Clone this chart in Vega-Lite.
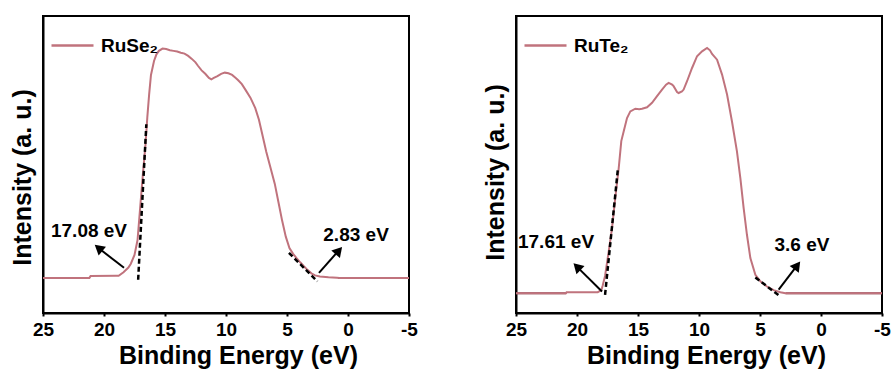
{
  "$schema": "https://vega.github.io/schema/vega-lite/v6.json",
  "padding": {"left": 9, "top": 15, "right": 5, "bottom": 5},
  "spacing": 63,
  "datasets": {
    "se": [
      {"x": 25, "y": 0}, {"x": 21.2, "y": 0}, {"x": 21.1, "y": 0.008}, {"x": 19.0, "y": 0.009}, {"x": 18.8, "y": 0.009},
      {"x": 18.4, "y": 0.025}, {"x": 18.0, "y": 0.045}, {"x": 17.8, "y": 0.062}, {"x": 17.5, "y": 0.10}, {"x": 17.25, "y": 0.165},
      {"x": 17.0, "y": 0.33}, {"x": 16.8, "y": 0.46}, {"x": 16.6, "y": 0.58}, {"x": 16.45, "y": 0.70}, {"x": 16.3, "y": 0.80},
      {"x": 16.15, "y": 0.885}, {"x": 15.9, "y": 0.946}, {"x": 15.7, "y": 0.975}, {"x": 15.5, "y": 0.99}, {"x": 15.2, "y": 1.0},
      {"x": 14.9, "y": 0.998}, {"x": 14.6, "y": 0.993}, {"x": 14.3, "y": 0.99}, {"x": 14.0, "y": 0.987}, {"x": 13.7, "y": 0.982},
      {"x": 13.4, "y": 0.978}, {"x": 13.1, "y": 0.968}, {"x": 12.8, "y": 0.955}, {"x": 12.5, "y": 0.94}, {"x": 12.3, "y": 0.925},
      {"x": 12.0, "y": 0.905}, {"x": 11.7, "y": 0.89}, {"x": 11.4, "y": 0.872}, {"x": 11.2, "y": 0.866}, {"x": 11.0, "y": 0.872},
      {"x": 10.7, "y": 0.88}, {"x": 10.4, "y": 0.89}, {"x": 10.1, "y": 0.895}, {"x": 9.8, "y": 0.892}, {"x": 9.5, "y": 0.885},
      {"x": 9.2, "y": 0.872}, {"x": 9.0, "y": 0.862}, {"x": 8.7, "y": 0.845}, {"x": 8.4, "y": 0.82}, {"x": 8.0, "y": 0.786},
      {"x": 7.6, "y": 0.74}, {"x": 7.3, "y": 0.69}, {"x": 7.0, "y": 0.62}, {"x": 6.7, "y": 0.55}, {"x": 6.4, "y": 0.49},
      {"x": 6.0, "y": 0.41}, {"x": 5.7, "y": 0.33}, {"x": 5.4, "y": 0.25}, {"x": 5.1, "y": 0.18}, {"x": 4.8, "y": 0.13},
      {"x": 4.5, "y": 0.105}, {"x": 4.2, "y": 0.085}, {"x": 3.9, "y": 0.067}, {"x": 3.6, "y": 0.05}, {"x": 3.3, "y": 0.034},
      {"x": 3.0, "y": 0.02}, {"x": 2.7, "y": 0.011}, {"x": 2.3, "y": 0.006}, {"x": 1.6, "y": 0.003}, {"x": 0.9, "y": 0.001},
      {"x": 0.7, "y": 0}, {"x": -5, "y": 0}
    ],
    "te": [
      {"x": 25, "y": 0}, {"x": 20.9, "y": 0}, {"x": 20.85, "y": 0.004}, {"x": 18.3, "y": 0.004}, {"x": 18.0, "y": 0.012},
      {"x": 17.9, "y": 0.03}, {"x": 17.7, "y": 0.07}, {"x": 17.4, "y": 0.17}, {"x": 17.13, "y": 0.265}, {"x": 16.86, "y": 0.39},
      {"x": 16.58, "y": 0.51}, {"x": 16.37, "y": 0.62}, {"x": 16.17, "y": 0.66}, {"x": 15.9, "y": 0.714}, {"x": 15.63, "y": 0.741},
      {"x": 15.22, "y": 0.752}, {"x": 14.9, "y": 0.75}, {"x": 14.67, "y": 0.752}, {"x": 14.26, "y": 0.758}, {"x": 13.85, "y": 0.776},
      {"x": 13.44, "y": 0.803}, {"x": 13.03, "y": 0.83}, {"x": 12.7, "y": 0.85}, {"x": 12.49, "y": 0.857}, {"x": 12.2, "y": 0.85},
      {"x": 12.08, "y": 0.844}, {"x": 11.8, "y": 0.82}, {"x": 11.67, "y": 0.816}, {"x": 11.4, "y": 0.822}, {"x": 11.26, "y": 0.83},
      {"x": 10.98, "y": 0.864}, {"x": 10.57, "y": 0.918}, {"x": 10.16, "y": 0.966}, {"x": 9.75, "y": 0.986}, {"x": 9.34, "y": 1.0},
      {"x": 9.1, "y": 0.99}, {"x": 8.93, "y": 0.975}, {"x": 8.52, "y": 0.952}, {"x": 8.11, "y": 0.891}, {"x": 7.7, "y": 0.81},
      {"x": 7.3, "y": 0.701}, {"x": 6.89, "y": 0.578}, {"x": 6.61, "y": 0.469}, {"x": 6.34, "y": 0.347}, {"x": 6.07, "y": 0.238},
      {"x": 5.79, "y": 0.143}, {"x": 5.38, "y": 0.075}, {"x": 4.97, "y": 0.048}, {"x": 4.43, "y": 0.027}, {"x": 3.88, "y": 0.012},
      {"x": 3.33, "y": 0.004}, {"x": 2.92, "y": 0}, {"x": -5, "y": 0}
    ]
  },
  "hconcat": [
    {
      "width": 366,
      "height": 297,
      "layer": [
        {
          "mark": {"type": "rule", "color": "#b4b4b4", "strokeWidth": 1.5},
          "encoding": {"y": {"datum": 0, "type": "quantitative"}}
        },
        {
          "data": {"values": [{"x": 25, "y": 0, "seg": "a"}, {"x": 21.2, "y": 0, "seg": "a"}, {"x": 0.8, "y": 0, "seg": "b"}, {"x": -5, "y": 0, "seg": "b"}]},
          "mark": {"type": "line", "color": "#7d3f47", "strokeWidth": 2},
          "encoding": {
            "x": {"field": "x", "type": "quantitative"},
            "y": {"field": "y", "type": "quantitative"},
            "detail": {"field": "seg"}
          }
        },
        {
          "data": {"name": "se"},
          "transform": [{"calculate": "'RuSe₂'", "as": "sample"}],
          "mark": {"type": "line", "strokeWidth": 2},
          "encoding": {
            "x": {
              "field": "x", "type": "quantitative",
              "scale": {"domain": [25, -5], "nice": false, "zero": false},
              "axis": {
                "title": "Binding Energy (eV)",
                "values": [25, 22.5, 20, 17.5, 15, 12.5, 10, 7.5, 5, 2.5, 0, -2.5, -5],
                "labelExpr": "datum.value % 5 === 0 ? '' + datum.value : ''",
                "labelFlush": false, "labelOverlap": false,
                "labelPadding": 4, "titlePadding": 4, "titleX": 195
              }
            },
            "y": {
              "field": "y", "type": "quantitative",
              "scale": {"domain": [-0.153, 1.142], "nice": false, "zero": false},
              "axis": {"title": "Intensity (a. u.)", "labels": false, "ticks": false, "titlePadding": 8, "titleY": 161}
            },
            "color": {
              "field": "sample", "type": "nominal",
              "scale": {"domain": ["RuSe₂"], "range": ["#c0737d"]},
              "legend": {"title": null, "orient": "none", "legendX": 7, "legendY": 7}
            }
          }
        },
        {
          "data": {"values": [{"x": 16.53, "y": 0.67, "seg": "a"}, {"x": 17.2, "y": -0.008, "seg": "a"}, {"x": 4.84, "y": 0.109, "seg": "b"}, {"x": 2.51, "y": -0.015, "seg": "b"}]},
          "mark": {"type": "line", "color": "black", "strokeWidth": 2.5, "strokeDash": [5, 3]},
          "encoding": {
            "x": {"field": "x", "type": "quantitative"},
            "y": {"field": "y", "type": "quantitative"},
            "detail": {"field": "seg"}
          }
        },
        {
          "data": {"values": [{"x": 18.36, "y": 0.044, "x2": 20.4, "y2": 0.128}, {"x": 2.38, "y": 0.022, "x2": 0.8, "y2": 0.117}]},
          "mark": {"type": "rule", "color": "black", "strokeWidth": 2},
          "encoding": {
            "x": {"field": "x", "type": "quantitative"},
            "y": {"field": "y", "type": "quantitative"},
            "x2": {"field": "x2"},
            "y2": {"field": "y2"}
          }
        },
        {
          "data": {"values": [{"x": 20.45, "y": 0.131, "a": 310}, {"x": 0.75, "y": 0.119, "a": 41}]},
          "mark": {"type": "point", "shape": "triangle-up", "filled": true, "color": "black", "opacity": 1, "size": 130},
          "encoding": {
            "x": {"field": "x", "type": "quantitative"},
            "y": {"field": "y", "type": "quantitative"},
            "angle": {"field": "a", "type": "quantitative", "scale": null}
          }
        },
        {
          "data": {"values": [{"x": 21.23, "y": 0.204, "t": "17.08 eV"}, {"x": -0.66, "y": 0.189, "t": "2.83 eV"}]},
          "mark": {"type": "text", "font": "Liberation Sans", "fontWeight": "bold", "fontSize": 19, "color": "black"},
          "encoding": {
            "x": {"field": "x", "type": "quantitative"},
            "y": {"field": "y", "type": "quantitative"},
            "text": {"field": "t"}
          }
        }
      ]
    },
    {
      "width": 366,
      "height": 297,
      "layer": [
        {
          "mark": {"type": "rule", "color": "#b4b4b4", "strokeWidth": 1.5},
          "encoding": {"y": {"datum": 0, "type": "quantitative"}}
        },
        {
          "data": {"values": [{"x": 25, "y": 0, "seg": "a"}, {"x": 20.9, "y": 0, "seg": "a"}, {"x": 2.9, "y": 0, "seg": "b"}, {"x": -5, "y": 0, "seg": "b"}]},
          "mark": {"type": "line", "color": "#7d3f47", "strokeWidth": 2},
          "encoding": {
            "x": {"field": "x", "type": "quantitative"},
            "y": {"field": "y", "type": "quantitative"},
            "detail": {"field": "seg"}
          }
        },
        {
          "data": {"name": "te"},
          "transform": [{"calculate": "'RuTe₂'", "as": "sample"}],
          "mark": {"type": "line", "strokeWidth": 2},
          "encoding": {
            "x": {
              "field": "x", "type": "quantitative",
              "scale": {"domain": [25, -5], "nice": false, "zero": false},
              "axis": {
                "title": "Binding Energy (eV)",
                "values": [25, 22.5, 20, 17.5, 15, 12.5, 10, 7.5, 5, 2.5, 0, -2.5, -5],
                "labelExpr": "datum.value % 5 === 0 ? '' + datum.value : ''",
                "labelFlush": false, "labelOverlap": false,
                "labelPadding": 4, "titlePadding": 4, "titleX": 190
              }
            },
            "y": {
              "field": "y", "type": "quantitative",
              "scale": {"domain": [-0.081, 1.13], "nice": false, "zero": false},
              "axis": {"title": "Intensity (a. u.)", "labels": false, "ticks": false, "titlePadding": 8, "titleY": 156}
            },
            "color": {
              "field": "sample", "type": "nominal",
              "scale": {"domain": ["RuTe₂"], "range": ["#c0737d"]},
              "legend": {"title": null, "orient": "none", "legendX": 7, "legendY": 7}
            }
          }
        },
        {
          "data": {"values": [{"x": 16.64, "y": 0.51, "seg": "a"}, {"x": 17.7, "y": -0.007, "seg": "a"}, {"x": 5.38, "y": 0.064, "seg": "b"}, {"x": 3.33, "y": -0.014, "seg": "b"}]},
          "mark": {"type": "line", "color": "black", "strokeWidth": 2.5, "strokeDash": [5, 3]},
          "encoding": {
            "x": {"field": "x", "type": "quantitative"},
            "y": {"field": "y", "type": "quantitative"},
            "detail": {"field": "seg"}
          }
        },
        {
          "data": {"values": [{"x": 17.95, "y": 0.007, "x2": 19.95, "y2": 0.105}, {"x": 3.47, "y": 0.014, "x2": 2.0, "y2": 0.11}]},
          "mark": {"type": "rule", "color": "black", "strokeWidth": 2},
          "encoding": {
            "x": {"field": "x", "type": "quantitative"},
            "y": {"field": "y", "type": "quantitative"},
            "x2": {"field": "x2"},
            "y2": {"field": "y2"}
          }
        },
        {
          "data": {"values": [{"x": 20.0, "y": 0.108, "a": 315}, {"x": 1.95, "y": 0.113, "a": 37}]},
          "mark": {"type": "point", "shape": "triangle-up", "filled": true, "color": "black", "opacity": 1, "size": 130},
          "encoding": {
            "x": {"field": "x", "type": "quantitative"},
            "y": {"field": "y", "type": "quantitative"},
            "angle": {"field": "a", "type": "quantitative", "scale": null}
          }
        },
        {
          "data": {"values": [{"x": 21.72, "y": 0.208, "t": "17.61 eV"}, {"x": 1.56, "y": 0.195, "t": "3.6 eV"}]},
          "mark": {"type": "text", "font": "Liberation Sans", "fontWeight": "bold", "fontSize": 19, "color": "black"},
          "encoding": {
            "x": {"field": "x", "type": "quantitative"},
            "y": {"field": "y", "type": "quantitative"},
            "text": {"field": "t"}
          }
        }
      ]
    }
  ],
  "resolve": {"scale": {"color": "independent"}, "legend": {"color": "independent"}},
  "config": {
    "font": "Liberation Sans",
    "view": {"stroke": "black", "strokeWidth": 2},
    "axis": {
      "grid": false,
      "domainColor": "black", "domainWidth": 2,
      "tickColor": "black", "tickWidth": 2, "tickSize": 3,
      "labelFont": "Liberation Sans", "labelFontWeight": "bold", "labelFontSize": 19, "labelColor": "black",
      "titleFont": "Liberation Sans", "titleFontWeight": "bold", "titleFontSize": 25, "titleColor": "black"
    },
    "legend": {
      "symbolType": "stroke", "symbolSize": 1764, "symbolStrokeWidth": 2.5,
      "labelFont": "Liberation Sans", "labelFontWeight": "bold", "labelFontSize": 19, "labelColor": "black",
      "labelOffset": 6, "padding": 0
    }
  }
}
